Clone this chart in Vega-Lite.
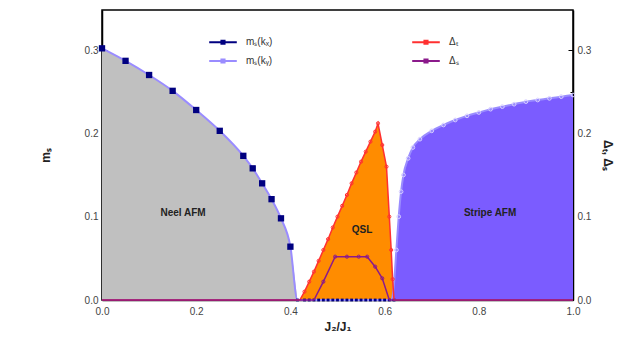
{
  "$schema": "https://vega.github.io/schema/vega-lite/v6.json",
  "width": 471,
  "height": 290,
  "autosize": {"type": "none"},
  "padding": {"left": 102, "top": 10, "right": 48, "bottom": 37},
  "background": "white",
  "config": {
    "font": "Liberation Sans",
    "view": {"stroke": "black", "strokeWidth": 1.5},
    "axis": {"domainColor": "black", "domainWidth": 1.5, "tickColor": "black", "tickWidth": 1, "labelFontSize": 10, "labelColor": "#444", "titleFontSize": 12, "titleColor": "#222", "grid": false},
    "legend": {"labelFontSize": 10, "labelColor": "#333"}
  },
  "datasets": {
    "pts": [
      {"series": "mₛ(kₓ)", "x": 0.0, "y": 0.302},
      {"series": "mₛ(kₓ)", "x": 0.05, "y": 0.287},
      {"series": "mₛ(kₓ)", "x": 0.1, "y": 0.27},
      {"series": "mₛ(kₓ)", "x": 0.15, "y": 0.251},
      {"series": "mₛ(kₓ)", "x": 0.2, "y": 0.228},
      {"series": "mₛ(kₓ)", "x": 0.25, "y": 0.203},
      {"series": "mₛ(kₓ)", "x": 0.3, "y": 0.173},
      {"series": "mₛ(kₓ)", "x": 0.32, "y": 0.158},
      {"series": "mₛ(kₓ)", "x": 0.34, "y": 0.14},
      {"series": "mₛ(kₓ)", "x": 0.36, "y": 0.121},
      {"series": "mₛ(kₓ)", "x": 0.38, "y": 0.098},
      {"series": "mₛ(kₓ)", "x": 0.4, "y": 0.064},
      {"series": "mₛ(kₓ)", "x": 0.415, "y": 0.0},
      {"series": "mₛ(kₓ)", "x": 0.43, "y": 0.0},
      {"series": "mₛ(kₓ)", "x": 0.44, "y": 0.0},
      {"series": "mₛ(kₓ)", "x": 0.45, "y": 0.0},
      {"series": "mₛ(kₓ)", "x": 0.46, "y": 0.0},
      {"series": "mₛ(kₓ)", "x": 0.47, "y": 0.0},
      {"series": "mₛ(kₓ)", "x": 0.48, "y": 0.0},
      {"series": "mₛ(kₓ)", "x": 0.49, "y": 0.0},
      {"series": "mₛ(kₓ)", "x": 0.5, "y": 0.0},
      {"series": "mₛ(kₓ)", "x": 0.51, "y": 0.0},
      {"series": "mₛ(kₓ)", "x": 0.52, "y": 0.0},
      {"series": "mₛ(kₓ)", "x": 0.53, "y": 0.0},
      {"series": "mₛ(kₓ)", "x": 0.54, "y": 0.0},
      {"series": "mₛ(kₓ)", "x": 0.55, "y": 0.0},
      {"series": "mₛ(kₓ)", "x": 0.56, "y": 0.0},
      {"series": "mₛ(kₓ)", "x": 0.57, "y": 0.0},
      {"series": "mₛ(kₓ)", "x": 0.58, "y": 0.0},
      {"series": "mₛ(kₓ)", "x": 0.59, "y": 0.0},
      {"series": "mₛ(kₓ)", "x": 0.6, "y": 0.0},
      {"series": "mₛ(kₓ)", "x": 0.61, "y": 0.0},
      {"series": "mₛ(kₓ)", "x": 0.62, "y": 0.0},
      {"series": "mₛ(kᵧ)", "x": 0.0, "y": 0.302},
      {"series": "mₛ(kᵧ)", "x": 0.05, "y": 0.287},
      {"series": "mₛ(kᵧ)", "x": 0.1, "y": 0.27},
      {"series": "mₛ(kᵧ)", "x": 0.15, "y": 0.251},
      {"series": "mₛ(kᵧ)", "x": 0.2, "y": 0.228},
      {"series": "mₛ(kᵧ)", "x": 0.25, "y": 0.203},
      {"series": "mₛ(kᵧ)", "x": 0.3, "y": 0.173},
      {"series": "mₛ(kᵧ)", "x": 0.32, "y": 0.158},
      {"series": "mₛ(kᵧ)", "x": 0.34, "y": 0.14},
      {"series": "mₛ(kᵧ)", "x": 0.36, "y": 0.121},
      {"series": "mₛ(kᵧ)", "x": 0.38, "y": 0.098},
      {"series": "mₛ(kᵧ)", "x": 0.4, "y": 0.064},
      {"series": "mₛ(kᵧ)", "x": 0.415, "y": 0.0},
      {"series": "mₛ(kᵧ)", "x": 0.615, "y": 0.0},
      {"series": "mₛ(kᵧ)", "x": 0.62, "y": 0.02},
      {"series": "mₛ(kᵧ)", "x": 0.625, "y": 0.06},
      {"series": "mₛ(kᵧ)", "x": 0.63, "y": 0.1},
      {"series": "mₛ(kᵧ)", "x": 0.635, "y": 0.13},
      {"series": "mₛ(kᵧ)", "x": 0.64, "y": 0.15},
      {"series": "mₛ(kᵧ)", "x": 0.65, "y": 0.17},
      {"series": "mₛ(kᵧ)", "x": 0.66, "y": 0.183},
      {"series": "mₛ(kᵧ)", "x": 0.675, "y": 0.193},
      {"series": "mₛ(kᵧ)", "x": 0.7, "y": 0.203},
      {"series": "mₛ(kᵧ)", "x": 0.725, "y": 0.21},
      {"series": "mₛ(kᵧ)", "x": 0.75, "y": 0.216},
      {"series": "mₛ(kᵧ)", "x": 0.775, "y": 0.221},
      {"series": "mₛ(kᵧ)", "x": 0.8, "y": 0.225},
      {"series": "mₛ(kᵧ)", "x": 0.825, "y": 0.229},
      {"series": "mₛ(kᵧ)", "x": 0.85, "y": 0.232},
      {"series": "mₛ(kᵧ)", "x": 0.875, "y": 0.235},
      {"series": "mₛ(kᵧ)", "x": 0.9, "y": 0.238},
      {"series": "mₛ(kᵧ)", "x": 0.925, "y": 0.24},
      {"series": "mₛ(kᵧ)", "x": 0.95, "y": 0.242},
      {"series": "mₛ(kᵧ)", "x": 0.975, "y": 0.244},
      {"series": "mₛ(kᵧ)", "x": 1.0, "y": 0.246},
      {"series": "Δₜ", "x": 0.0, "y": 0.0},
      {"series": "Δₜ", "x": 0.42, "y": 0.0},
      {"series": "Δₜ", "x": 0.43, "y": 0.01},
      {"series": "Δₜ", "x": 0.44, "y": 0.022},
      {"series": "Δₜ", "x": 0.45, "y": 0.034},
      {"series": "Δₜ", "x": 0.46, "y": 0.047},
      {"series": "Δₜ", "x": 0.47, "y": 0.06},
      {"series": "Δₜ", "x": 0.48, "y": 0.073},
      {"series": "Δₜ", "x": 0.49, "y": 0.087},
      {"series": "Δₜ", "x": 0.5, "y": 0.1},
      {"series": "Δₜ", "x": 0.51, "y": 0.113},
      {"series": "Δₜ", "x": 0.52, "y": 0.126},
      {"series": "Δₜ", "x": 0.53, "y": 0.14},
      {"series": "Δₜ", "x": 0.54, "y": 0.153},
      {"series": "Δₜ", "x": 0.55, "y": 0.166},
      {"series": "Δₜ", "x": 0.56, "y": 0.178},
      {"series": "Δₜ", "x": 0.57, "y": 0.19},
      {"series": "Δₜ", "x": 0.58, "y": 0.202},
      {"series": "Δₜ", "x": 0.586, "y": 0.212},
      {"series": "Δₜ", "x": 0.595, "y": 0.186},
      {"series": "Δₜ", "x": 0.604, "y": 0.16},
      {"series": "Δₜ", "x": 0.61, "y": 0.1},
      {"series": "Δₜ", "x": 0.614, "y": 0.06},
      {"series": "Δₜ", "x": 0.617, "y": 0.025},
      {"series": "Δₜ", "x": 0.62, "y": 0.0},
      {"series": "Δₜ", "x": 1.0, "y": 0.0},
      {"series": "Δₛ", "x": 0.0, "y": 0.0},
      {"series": "Δₛ", "x": 0.45, "y": 0.0},
      {"series": "Δₛ", "x": 0.47, "y": 0.022},
      {"series": "Δₛ", "x": 0.495, "y": 0.052},
      {"series": "Δₛ", "x": 0.52, "y": 0.052},
      {"series": "Δₛ", "x": 0.545, "y": 0.052},
      {"series": "Δₛ", "x": 0.563, "y": 0.052},
      {"series": "Δₛ", "x": 0.58, "y": 0.04},
      {"series": "Δₛ", "x": 0.595, "y": 0.026},
      {"series": "Δₛ", "x": 0.61, "y": 0.0},
      {"series": "Δₛ", "x": 1.0, "y": 0.0}
    ],
    "labels": [
      {"label": "Neel AFM", "x": 0.172, "y": 0.104},
      {"label": "QSL", "x": 0.552, "y": 0.084},
      {"label": "Stripe AFM", "x": 0.824, "y": 0.104}
    ]
  },
  "encoding": {
    "x": {
      "field": "x", "type": "quantitative",
      "scale": {"domain": [0, 1], "nice": false, "zero": false},
      "axis": {
        "title": "J₂/J₁", "titleFontSize": 12, "titleFontWeight": "bold", "titlePadding": 5,
        "values": [0, 0.1, 0.2, 0.3, 0.4, 0.5, 0.6, 0.7, 0.8, 0.9, 1.0],
        "format": ".1f",
        "labelExpr": "round(datum.value*10)%2==0 ? datum.label : ''",
        "tickSize": {"condition": {"test": "round(datum.value*10)%2==0", "value": -5}, "value": -3},
        "labelPadding": 11, "labelFlush": false
      }
    }
  },
  "layer": [
    {
      "encoding": {
        "y": {
          "field": "y", "type": "quantitative",
          "scale": {"domain": [0, 0.348], "nice": false},
          "axis": {
            "orient": "left", "title": "mₛ", "titlePadding": 32,
            "values": [0, 0.05, 0.1, 0.15, 0.2, 0.25, 0.3],
            "format": ".2f",
            "labelExpr": "round(datum.value*20)%2==0 ? format(datum.value, '.1f') : ''",
            "tickSize": {"condition": {"test": "round(datum.value*20)%2==0", "value": -5}, "value": -3},
            "labelPadding": 9
          }
        }
      },
      "layer": [
        {
          "data": {"name": "pts"},
          "transform": [{"filter": "datum.series == 'mₛ(kₓ)' && datum.x <= 0.415"}],
          "mark": {"type": "area", "color": "#c0c0c0", "interpolate": "monotone"}
        },
        {
          "data": {"name": "pts"},
          "transform": [{"filter": "datum.series == 'Δₜ' && datum.x >= 0.42 && datum.x <= 0.62"}],
          "mark": {"type": "area", "color": "#ff8c00"}
        },
        {
          "data": {"name": "pts"},
          "transform": [{"filter": "datum.series == 'mₛ(kᵧ)' && datum.x >= 0.615"}],
          "mark": {"type": "area", "color": "#7b5cff", "interpolate": "monotone"}
        },
        {
          "data": {"name": "labels"},
          "mark": {"type": "text", "fontSize": 10, "color": "#222", "fontWeight": "bold"},
          "encoding": {"text": {"field": "label"}}
        },
        {
          "data": {"name": "pts"},
          "transform": [{"filter": "datum.series == 'mₛ(kᵧ)'"}],
          "mark": {"type": "line", "strokeWidth": 2, "interpolate": "monotone"},
          "encoding": {"color": {"field": "series", "type": "nominal", "scale": {"domain": ["mₛ(kₓ)", "mₛ(kᵧ)", "Δₜ", "Δₛ"], "range": ["#000080", "#9a8cff", "#ff3030", "#8b1a8b"]}}}
        },
        {
          "data": {"name": "pts"},
          "transform": [{"filter": "datum.series == 'mₛ(kᵧ)' && datum.x > 0.62"}],
          "mark": {"type": "point", "shape": "circle", "size": 14, "filled": false, "strokeWidth": 1, "opacity": 1, "color": "#d8d0ff"}
        },
        {
          "data": {"name": "pts"},
          "transform": [{"filter": "datum.series == 'mₛ(kₓ)' && datum.y > 0"}],
          "mark": {"type": "point", "shape": "square", "size": 40, "filled": true, "opacity": 1},
          "encoding": {"color": {"field": "series", "type": "nominal"}}
        },
        {
          "data": {"name": "pts"},
          "transform": [{"filter": "datum.series == 'mₛ(kₓ)' && datum.y == 0"}],
          "mark": {"type": "point", "shape": "square", "size": 8, "filled": true, "opacity": 1},
          "encoding": {"color": {"field": "series", "type": "nominal"}}
        }
      ]
    },
    {
      "encoding": {
        "y": {
          "field": "y", "type": "quantitative",
          "scale": {"domain": [0, 0.348], "nice": false},
          "axis": {
            "orient": "right", "title": "Δₜ, Δₛ", "titleAngle": 90, "titlePadding": 10,
            "values": [0, 0.05, 0.1, 0.15, 0.2, 0.25, 0.3],
            "format": ".2f",
            "labelExpr": "round(datum.value*20)%2==0 ? format(datum.value, '.1f') : ''",
            "tickSize": {"condition": {"test": "round(datum.value*20)%2==0", "value": -5}, "value": -3},
            "labelPadding": 9
          }
        }
      },
      "layer": [
        {
          "data": {"name": "pts"},
          "transform": [{"filter": "datum.series == 'Δₜ' || datum.series == 'Δₛ'"}],
          "mark": {"type": "line", "strokeWidth": 1.5},
          "encoding": {
            "color": {"field": "series", "type": "nominal",
              "legend": {
                "orient": "none", "legendX": 108, "legendY": 19, "columns": 2, "columnPadding": 135, "rowPadding": 0,
                "title": null,
                "symbolType": "M-1.15,0L1.15,0M-0.13,-0.13L0.13,-0.13L0.13,0.13L-0.13,0.13Z",
                "symbolSize": 576, "symbolStrokeWidth": 2, "symbolFillColor": "white", "labelOffset": 10
              }
            },
            "detail": {"field": "series"}
          }
        },
        {
          "data": {"name": "pts"},
          "transform": [{"filter": "(datum.series == 'Δₜ' || datum.series == 'Δₛ') && datum.y > 0"}],
          "mark": {"type": "point", "shape": "circle", "size": 10, "filled": false, "strokeWidth": 1, "opacity": 1},
          "encoding": {"color": {"field": "series", "type": "nominal"}}
        }
      ]
    }
  ],
  "resolve": {"scale": {"y": "independent"}}
}
